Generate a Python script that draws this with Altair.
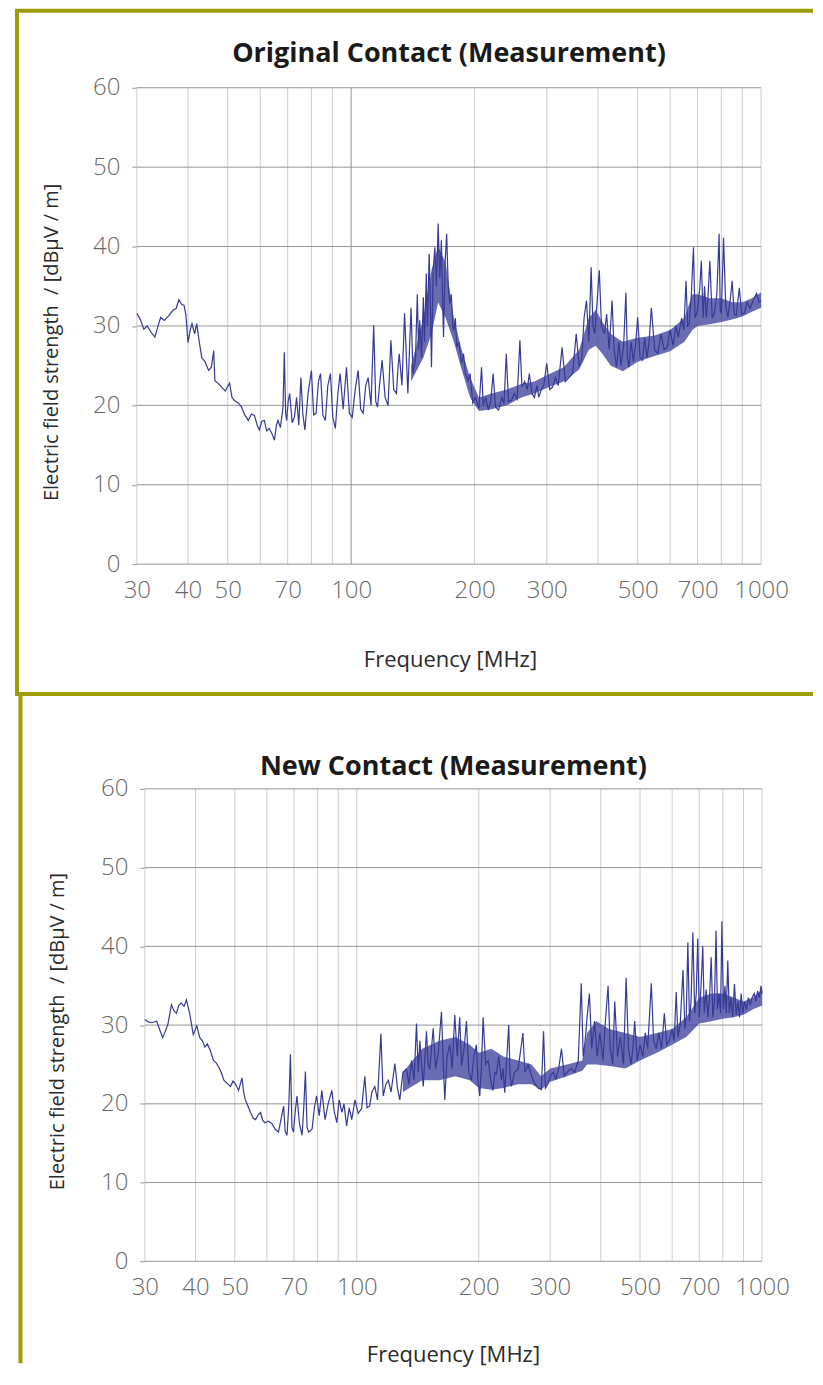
import altair as alt
import pandas as pd

FONT = "Open Sans"
TOP_TITLE = "Original Contact (Measurement)"
BOTTOM_TITLE = "New Contact (Measurement)"
X_TITLE = "Frequency [MHz]"
Y_TITLE = "Electric field strength\u00a0 / [dBµV / m]"

x_tick_labels = [30, 40, 50, 70, 100, 200, 300, 500, 700, 1000]
y_ticks = [0, 10, 20, 30, 40, 50, 60]
top_vgrid_light = [30, 40, 50, 60, 70, 80, 90, 200, 300, 400, 500, 600, 700, 800, 900, 1000]
top_vgrid_dark = [100]
bottom_vgrid_light = [30, 40, 50, 60, 70, 80, 90, 100, 200, 300, 400, 500, 600, 700, 800, 900, 1000]
bottom_vgrid_dark = []

# ---------------- Original contact (top) ----------------
top_freq = [30.0, 30.6, 31.2, 31.8, 32.5, 33.2, 33.8, 34.3, 35.0, 35.9, 36.8, 37.4, 38.0, 38.6, 39.1, 39.5,
            40.0, 40.5, 40.9, 41.5, 42.0, 42.6, 43.2, 44.0, 44.9, 45.6, 46.2, 46.5, 47.3, 48.3, 49.3, 50.5,
            51.2, 51.9, 53.0, 54.0, 55.0, 56.1, 57.1, 58.1, 59.0, 59.7, 60.5, 61.4, 62.2, 63.1, 64.0, 65.0,
            65.7, 66.3, 67.2, 68.2, 68.7, 69.2, 69.6, 70.2, 70.8, 71.8, 72.7, 73.6, 74.5, 75.4, 76.2, 77.1,
            78.5, 80.0, 81.0, 82.1, 83.2, 84.2, 85.3, 86.5, 87.7, 89.0, 90.2, 91.5, 92.8, 94.0, 95.6, 97.4,
            99.0, 100.6, 102.3, 104.0, 105.5, 107.0, 108.5, 110.0, 111.8, 113.5, 114.8, 116.0, 117.5, 119.0,
            121.0, 123.0, 124.0, 125.0, 127.0, 129.0, 130.0, 131.0, 133.0, 135.0, 137.5, 139.0, 140.0, 141.5,
            143.5, 145.0, 146.0, 147.0, 148.5, 150.0, 151.0, 152.5, 153.5, 155.0, 156.0, 157.0, 158.5, 160.0,
            161.5, 163.0, 164.5, 166.0, 167.0, 168.0, 169.5, 171.0, 172.5, 174.0, 175.5, 177.0, 178.0, 179.5,
            181.0, 183.0, 186.0, 188.0, 190.0, 193.0, 195.0, 198.0, 201.0, 205.0, 208.0, 210.0, 213.0, 216.0,
            219.0, 222.0, 225.0, 229.0, 233.0, 236.0, 239.0, 242.0, 246.0, 250.0, 254.0, 258.0, 261.0, 265.0,
            269.0, 272.0, 276.0, 280.0, 284.0, 287.0, 291.0, 295.0, 300.0, 305.0, 310.0, 315.0, 320.0, 327.0,
            333.0, 340.0, 347.0, 354.0, 360.0, 365.0, 370.0, 375.0, 380.0, 385.0, 389.0, 393.0, 398.0, 403.0,
            408.0, 415.0, 420.0, 426.0, 433.0, 438.0, 444.0, 450.0, 455.0, 462.0, 468.0, 472.0, 476.0, 482.0,
            488.0, 494.0, 500.0, 507.0, 514.0, 520.0, 527.0, 533.0, 540.0, 550.0, 560.0, 570.0, 580.0, 590.0,
            600.0, 610.0, 620.0, 628.0, 640.0, 648.0, 656.0, 662.0, 668.0, 676.0, 684.0, 690.0, 700.0, 708.0,
            715.0, 722.0, 728.0, 735.0, 742.0, 750.0, 760.0, 770.0, 780.0, 790.0, 795.0, 800.0, 810.0, 820.0,
            830.0, 840.0, 850.0, 860.0, 870.0, 885.0, 897.0, 910.0, 925.0, 940.0, 950.0, 962.0, 975.0, 988.0,
            1000.0]
top_level = [31.6, 30.8, 29.6, 30.0, 29.2, 28.6, 30.0, 31.1, 30.7, 31.3, 32.0, 32.2, 33.3, 32.7, 32.6, 31.5,
             27.9, 29.5, 30.3, 29.0, 30.3, 28.0, 26.0, 25.5, 24.4, 24.8, 26.9, 23.1, 22.8, 22.3, 21.8, 22.8,
             21.0, 20.6, 20.3, 19.8, 18.8, 18.1, 18.9, 18.7, 17.5, 16.9, 18.0, 18.1, 16.8, 17.1, 16.5, 15.6,
             17.5, 18.1, 17.2, 19.8, 26.7, 19.0, 18.1, 20.5, 21.5, 17.8, 18.5, 21.0, 17.5, 23.5, 19.0, 16.9,
             21.5, 24.4, 18.8, 19.0, 23.0, 24.0, 18.8, 18.1, 22.5, 24.0, 18.5, 17.1, 21.5, 24.0, 19.5, 24.8,
             19.0, 18.5, 22.0, 24.4, 19.5, 19.0, 22.5, 23.5, 20.0, 30.1, 20.5, 19.8, 23.0, 25.7,
             21.0, 20.0, 24.0, 28.2, 22.0, 21.5, 24.5, 26.5, 22.5, 31.6, 21.5, 28.0, 32.3, 24.0,
             25.7, 34.0, 27.0, 30.7, 26.0, 33.6, 28.0, 36.6, 30.0, 39.1, 33.0, 24.8, 37.0, 39.9,
             35.0, 42.9, 36.0, 40.8, 34.0, 28.6, 38.0, 41.6, 35.0, 32.8, 34.0, 30.0, 29.4, 31.0,
             27.3, 28.0, 25.3, 26.5, 24.0, 23.1, 24.0, 20.3, 21.0, 19.6, 24.8, 20.0, 21.0, 19.4,
             20.5, 24.0, 19.8, 19.4, 21.0, 20.2, 26.5, 20.5, 20.6, 21.5, 20.8, 28.2, 22.3, 23.0,
             22.0, 24.0, 21.5, 21.0, 22.5, 21.0, 22.0, 22.5, 25.3, 22.0, 22.3, 23.5, 22.5, 27.3,
             23.0, 23.5, 24.0, 29.0, 25.0, 25.7, 31.0, 33.2, 28.0, 37.4, 30.0, 29.0, 33.0, 37.0,
             30.0, 29.0, 31.5, 27.0, 33.2, 27.0, 24.8, 28.0, 25.0, 27.5, 34.2, 26.0, 24.8, 28.0,
             25.5, 27.5, 31.1, 26.0, 25.7, 28.5, 26.0, 28.0, 32.3, 27.0, 26.5, 29.0, 27.0, 27.3,
             29.5, 27.5, 30.0, 28.6, 31.0, 29.5, 35.7, 30.0, 30.3, 34.0, 39.9, 31.0, 32.0, 34.5,
             38.2, 31.0, 35.0, 31.1, 33.5, 38.2, 31.0, 31.6, 34.0, 41.6, 32.0, 31.6, 41.1, 32.5,
             31.1, 33.0, 35.7, 31.5, 31.3, 34.8, 31.5, 31.6, 33.0, 32.2, 32.8, 33.5, 34.1, 33.0,
             33.2]
top_band_freq = [140, 150, 157, 163, 170, 178, 186, 195, 205, 220, 240, 260, 280, 300, 330, 360, 380, 395,
                 410, 430, 460, 500, 550, 600, 650, 680, 700, 750, 800, 850, 900, 950, 1000]
top_band_lo = [23.0, 26.0, 29.0, 33.0, 31.0, 28.0, 24.5, 21.0, 19.3, 19.5, 20.0, 21.0, 21.5, 22.2, 23.0, 24.5,
               27.0, 27.5, 26.5, 25.0, 24.3, 25.5, 26.2, 26.8, 28.0, 29.5, 30.0, 30.2, 30.5, 30.8, 31.2, 31.8, 32.3]
top_band_hi = [25.0, 31.0, 37.0, 40.0, 38.0, 31.0, 27.0, 23.5, 21.0, 21.5, 22.0, 22.7, 23.0, 23.8, 24.8, 27.0,
               31.0, 32.0, 30.5, 29.0, 28.0, 28.5, 28.8, 29.5, 31.0, 34.0, 34.0, 33.5, 33.5, 33.0, 33.0, 33.5, 34.2]

# ---------------- New contact (bottom) ----------------
bottom_freq = [30.0, 30.6, 31.2, 32.1, 32.6, 33.2, 33.7, 34.2, 34.9, 35.4, 35.9, 36.4, 36.9, 37.5, 38.0, 38.7,
               39.5, 40.3, 41.0, 41.6, 42.2, 42.8, 43.5, 44.3, 45.0, 45.6, 46.3, 47.0, 47.9, 48.8, 49.5, 50.1,
               51.1, 52.1, 52.6, 53.1, 54.0, 54.7, 55.5, 56.3, 57.1, 57.9, 58.6, 59.4, 60.5, 61.7, 62.9, 64.1,
               65.0, 66.0, 66.6, 67.3, 68.0, 68.6, 69.2, 69.8, 70.5, 71.2, 72.2, 73.3, 74.0, 74.7, 75.4, 76.1,
               77.6, 78.6, 79.6, 80.8, 82.0, 83.5, 85.0, 86.8, 88.0, 89.3, 90.5, 91.9, 93.0, 94.4, 95.8, 97.2,
               99.0, 100.8, 102.8, 104.7, 106.0, 107.6, 109.0, 110.8, 112.5, 114.7, 116.2, 118.0, 119.6, 121.5,
               124.2, 126.0, 127.7, 130.0, 132.7, 134.5, 136.5, 138.5, 140.4, 141.8, 143.1, 145.9, 148.6, 150.0,
               151.4, 154.4, 156.5, 158.8, 161.8, 163.5, 164.9, 167.0, 169.6, 172.0, 174.5, 177.0, 179.5, 181.3,
               184.0, 186.5, 189.0, 191.8, 194.5, 197.3, 199.0, 201.1, 203.0, 205.0, 208.0, 210.9, 214.0, 217.0,
               219.0, 221.1, 224.0, 227.5, 229.5, 231.8, 234.0, 237.1, 239.0, 240.8, 245.0, 250.0, 254.8, 257.0,
               260.0, 264.7, 270.0, 274.7, 280.0, 285.4, 289.0, 292.0, 296.0, 300.0, 305.0, 310.0, 315.0, 320.0,
               325.0, 330.0, 338.0, 345.0, 352.0, 358.0, 362.0, 366.0, 370.0, 375.0, 380.0, 386.0, 392.0, 398.0,
               405.0, 410.0, 417.0, 422.0, 428.0, 433.0, 440.0, 447.0, 455.0, 462.0, 468.0, 475.0, 480.0, 485.0,
               492.0, 500.0, 508.0, 515.0, 522.0, 533.0, 540.0, 548.0, 556.0, 565.0, 574.0, 582.0, 590.0, 600.0,
               607.0, 614.0, 620.0, 628.0, 638.0, 645.0, 650.0, 656.0, 662.0, 668.0, 675.0, 682.0, 688.0, 694.0,
               700.0, 707.0, 714.0, 720.0, 728.0, 735.0, 742.0, 749.0, 756.0, 763.0, 770.0, 776.0, 783.0, 790.0,
               796.0, 803.0, 810.0, 816.0, 823.0, 830.0, 838.0, 846.0, 855.0, 863.0, 872.0, 880.0, 888.0, 896.0,
               905.0, 915.0, 925.0, 935.0, 945.0, 957.0, 965.0, 975.0, 985.0, 994.0, 1000.0]
bottom_level = [30.7, 30.4, 30.3, 30.5, 29.5, 28.4, 29.2, 30.1, 32.6, 31.8, 31.5, 32.5, 32.8, 32.4, 33.2, 31.5,
                28.8, 29.9, 28.4, 28.0, 27.2, 27.6, 26.8, 25.5, 25.2, 24.7, 24.0, 23.0, 22.6, 22.2, 22.9, 22.6,
                21.7, 23.3, 21.5, 20.5, 19.6, 18.9, 18.2, 18.0, 18.6, 18.9, 17.9, 17.6, 17.8, 17.5, 16.8, 16.4,
                18.0, 19.7, 16.5, 16.0, 20.0, 26.3, 17.0, 16.4, 19.0, 21.0, 17.5, 16.0, 19.5, 24.1, 17.0, 16.4,
                16.8, 19.5, 21.0, 18.5, 21.7, 18.0, 20.0, 21.7, 19.0, 17.6, 20.5, 18.9, 20.0, 17.2, 19.5, 18.0,
                20.5, 18.8, 19.4, 23.5, 19.5, 19.7, 21.5, 22.2, 20.5, 28.9, 21.0, 22.5, 23.0, 21.5,
                25.1, 22.0, 20.5, 24.0, 24.4, 22.5, 25.5, 23.0, 30.2, 24.0, 28.0, 22.2, 29.2, 25.0,
                24.4, 29.6, 24.5, 26.3, 31.7, 25.0, 20.5, 26.0, 27.5, 24.5, 31.3, 26.0, 31.0, 24.8,
                27.0, 30.5, 24.0, 23.0, 26.0, 27.5, 23.0, 21.0, 24.5, 31.0, 25.0, 25.5, 23.0, 21.7,
                24.0, 23.8, 26.0, 23.0, 24.5, 21.4, 25.0, 30.0, 23.5, 22.2, 24.0, 24.4, 27.5, 29.0,
                24.0, 25.0, 23.5, 22.6, 22.0, 21.8, 29.2, 22.0, 22.5, 23.5, 24.0, 23.2, 24.5, 27.0,
                23.5, 24.0, 24.5, 24.0, 25.5, 35.3, 26.0, 28.0, 31.0, 34.0, 27.0, 30.5, 26.0, 29.0,
                25.5, 30.0, 35.0, 27.0, 25.0, 33.0, 26.0, 28.5, 25.0, 36.0, 27.0, 25.0, 27.0, 30.5,
                25.5, 27.5, 26.0, 29.0, 27.0, 35.3, 28.0, 27.0, 29.0, 27.0, 31.5, 27.5, 28.0, 29.5,
                28.0, 34.2, 28.5, 30.0, 37.0, 29.5, 31.0, 40.5, 30.5, 33.0, 41.8, 31.5, 34.0, 41.0,
                31.0, 35.0, 40.0, 31.5, 34.5, 31.0, 33.5, 38.6, 31.0, 33.0, 42.0, 32.0, 34.0, 31.5,
                43.2, 32.0, 35.0, 31.5, 38.2, 31.5, 33.5, 31.0, 35.2, 31.3, 33.0, 31.0, 34.0, 31.5,
                33.0, 32.0, 33.5, 32.5, 33.5, 34.0, 33.0, 34.3, 33.5, 35.0, 34.0]
bottom_band_freq = [130, 145, 160, 175, 190, 200, 215, 230, 250, 270, 285, 300, 330, 360, 370, 390, 420, 460,
                    500, 550, 600, 650, 700, 750, 800, 850, 900, 950, 1000]
bottom_band_lo = [21.5, 23.0, 23.0, 23.5, 23.0, 22.0, 21.8, 22.0, 22.5, 22.5, 21.8, 22.8, 23.5, 24.2, 25.0,
                  25.0, 24.8, 24.5, 25.5, 26.5, 27.5, 28.5, 30.2, 30.5, 30.8, 31.0, 31.3, 32.0, 32.5]
bottom_band_hi = [24.0, 27.0, 28.0, 28.5, 27.5, 26.5, 27.0, 26.0, 25.5, 25.0, 23.5, 24.5, 25.0, 25.5, 29.0,
                  30.5, 29.5, 29.0, 28.5, 29.0, 29.5, 31.0, 33.5, 34.0, 34.0, 33.5, 33.0, 33.5, 34.5]

BORDER = "#9b9d00"
LINE = "#363a94"
BAND = "#4347a0"
HGRID = "#959595"
VGRID = "#cdcdcd"
VGRID_DARK = "#959595"


def panel(title, freq, level, bf, blo, bhi, vlight, vdark, width, height, x_range, y_offset,
          title_pos, ytitle_pos, xtitle_pos, rules):
    xs = alt.Scale(type="log", domain=[30, 1000], range=x_range, nice=False)
    ys = alt.Scale(domain=[0, 60], nice=False, zero=False)
    xaxis = alt.Axis(values=x_tick_labels, grid=False, ticks=False, domain=False, format="d",
                     labelFont=FONT, labelFontSize=24, labelFontWeight=300, labelColor="#6a6a6a",
                     labelPadding=14, labelFlush=False, labelOverlap=False, title=None)
    yaxis = alt.Axis(values=y_ticks, grid=False, domain=False, ticks=True, tickSize=5,
                     tickColor=HGRID, labelFont=FONT, labelFontSize=24, labelFontWeight=300,
                     labelColor="#6a6a6a", labelPadding=12, title=None, offset=y_offset)
    one = pd.DataFrame({"k": [0]})

    hg = pd.DataFrame({"v": y_ticks, "x1": [30] * len(y_ticks), "x2": [1000] * len(y_ticks)})
    hgrid = alt.Chart(hg).mark_rule(color=HGRID, strokeWidth=1).encode(
        x=alt.X("x1:Q", scale=xs, axis=xaxis), x2="x2:Q",
        y=alt.Y("v:Q", scale=ys, axis=yaxis))
    layers = []
    for vals, col in ((vlight, VGRID), (vdark, VGRID_DARK)):
        if not vals:
            continue
        vg = pd.DataFrame({"f": vals, "y1": [0] * len(vals), "y2": [60] * len(vals)})
        layers.append(alt.Chart(vg).mark_rule(color=col, strokeWidth=1).encode(
            x=alt.X("f:Q", scale=xs, axis=xaxis),
            y=alt.Y("y1:Q", scale=ys, axis=yaxis), y2="y2:Q"))
    layers.append(hgrid)
    band = alt.Chart(pd.DataFrame({"f": bf, "lo": blo, "hi": bhi})).mark_area(
        color=BAND, opacity=0.8).encode(
        x=alt.X("f:Q", scale=xs, axis=xaxis),
        y=alt.Y("lo:Q", scale=ys, axis=yaxis), y2="hi:Q")
    line = alt.Chart(pd.DataFrame({"f": freq, "v": level})).mark_line(
        color=LINE, strokeWidth=1.2).encode(
        x=alt.X("f:Q", scale=xs, axis=xaxis),
        y=alt.Y("v:Q", scale=ys, axis=yaxis))
    layers += [band, line]

    t = alt.Chart(one).mark_text(font=FONT, fontSize=27, fontWeight="bold", color="#1a1a1a",
                                 align="center", baseline="alphabetic").encode(
        x=alt.value(title_pos[0]), y=alt.value(title_pos[1]), text=alt.value(title))
    yt = alt.Chart(one).mark_text(font=FONT, fontSize=20, color="#2a2a2a", angle=270,
                                  align="center", baseline="middle").encode(
        x=alt.value(ytitle_pos[0]), y=alt.value(ytitle_pos[1]), text=alt.value(Y_TITLE))
    xt = alt.Chart(one).mark_text(font=FONT, fontSize=22, color="#2a2a2a",
                                  align="center", baseline="middle").encode(
        x=alt.value(xtitle_pos[0]), y=alt.value(xtitle_pos[1]), text=alt.value(X_TITLE))
    layers += [t, yt, xt]
    for (x1, y1, x2, y2) in rules:
        if x1 == x2:
            enc = dict(x=alt.value(x1), y=alt.value(y1), y2=alt.value(y2))
        else:
            enc = dict(x=alt.value(x1), x2=alt.value(x2), y=alt.value(y1))
        layers.append(alt.Chart(one).mark_rule(color=BORDER, strokeWidth=4).encode(**enc))
    return alt.layer(*layers).properties(width=width, height=height)


top = panel(TOP_TITLE, top_freq, top_level, top_band_freq, top_band_lo, top_band_hi,
            top_vgrid_light, top_vgrid_dark, 625, 477, [0, 625], 0,
            (312.5, -26), (-85, 255), (314, 573),
            [(-120, -77, -120, 607), (-122, -77, 677, -77), (-122, 607, 677, 607)])
bottom = panel(BOTTOM_TITLE, bottom_freq, bottom_level, bottom_band_freq, bottom_band_lo, bottom_band_hi,
               bottom_vgrid_light, bottom_vgrid_dark, 626, 473, [8, 626], -8,
               (317, -14), (-79, 243), (317, 567),
               [(-116.5, -95, -116.5, 575)])

chart = alt.vconcat(top, bottom, spacing=225, bounds="flush").properties(
    padding={"left": 5, "top": 0, "right": 0, "bottom": 0}
).configure_view(stroke=None)

chart.save("out.html", embed_options={"renderer": "svg", "actions": False})
